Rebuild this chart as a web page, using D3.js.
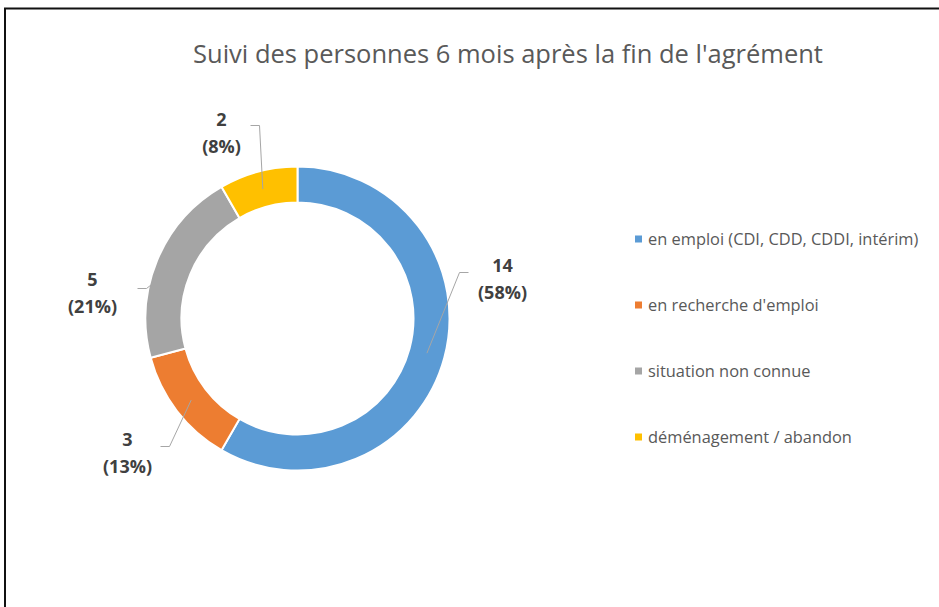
<!DOCTYPE html>
<meta charset="utf-8">
<head>
  <title>Suivi des personnes</title>
</head>

<style>
body {
  margin: 0;
  background: #fff;
  font-family: "Open Sans", Lato, sans-serif;
  font-variant-ligatures: none;
}

.title {
  font-size: 25.5px;
  fill: #595959;
}

.legend text {
  font-size: 16.4px;
  fill: #595959;
}

.labels text {
  font-size: 18px;
  font-weight: bold;
  fill: #404040;
}

.leaders path {
  fill: none;
  stroke: #a6a6a6;
  stroke-width: 1;
}

.slices path {
  stroke: #fff;
  stroke-width: 2;
}
</style>

<body>
  <svg width="939" height="607"></svg>

  <script src="https://cdnjs.cloudflare.com/ajax/libs/d3/7.8.5/d3.min.js"></script>

  <script>
var categories = [
  'en emploi (CDI, CDD, CDDI, intérim)',
  'en recherche d\'emploi',
  'situation non connue',
  'déménagement / abandon'
];
var values = [14, 3, 5, 2];
var colors = ['#5b9bd5', '#ed7d31', '#a5a5a5', '#ffc000'];

var titleText = 'Suivi des personnes 6 mois après la fin de l\'agrément';

// layout: label centre and leader elbow, relative to the donut centre
var labelAt = [[205, -43], [-170, 131], [-205, -29], [-76, -189]];
var elbowAt = [[162, -46], [-128, 128], [-151, -30], [-38, -193]];

var cx = 297.5, cy = 318.5;
var outerR = 152, innerR = 116;

var svg = d3.select('svg');

// frame
svg.append('rect')
  .attr('x', 5)
  .attr('y', 8.5)
  .attr('width', 1000)
  .attr('height', 1000)
  .attr('fill', 'none')
  .attr('stroke', '#111')
  .attr('stroke-width', 2);

svg.append('text')
  .attr('class', 'title')
  .attr('x', 508)
  .attr('y', 63)
  .attr('text-anchor', 'middle')
  .text(titleText);

var total = d3.sum(values);

var pie = d3.pie()
  .sort(null)
  .value(function(d) { return d; });

var arc = d3.arc()
  .innerRadius(innerR)
  .outerRadius(outerR);

var midArc = d3.arc()
  .innerRadius((innerR + outerR) / 2)
  .outerRadius((innerR + outerR) / 2);

var arcs = pie(values);

var g = svg.append('g')
  .attr('transform', 'translate(' + cx + ',' + cy + ')');

g.append('g')
  .attr('class', 'slices')
  .selectAll('path')
  .data(arcs)
  .enter()
  .append('path')
  .attr('fill', function(d, i) { return colors[i]; })
  .attr('d', arc);

// leader lines
g.append('g')
  .attr('class', 'leaders')
  .selectAll('path')
  .data(arcs)
  .enter()
  .append('path')
  .attr('d', function(d, i) {
    var c = midArc.centroid(d);
    var e = elbowAt[i];
    var dir = labelAt[i][0] > e[0] ? 1 : -1;
    return d3.line()([c, e, [e[0] + dir * 9, e[1]]]);
  });

// data labels
var lab = g.append('g')
  .attr('class', 'labels')
  .selectAll('text')
  .data(arcs)
  .enter()
  .append('text')
  .attr('text-anchor', 'middle')
  .attr('x', function(d, i) { return labelAt[i][0]; })
  .attr('y', function(d, i) { return labelAt[i][1]; });

lab.append('tspan')
  .attr('x', function(d, i) { return labelAt[i][0]; })
  .attr('dy', '-0.2em')
  .text(function(d) { return d.data; });

lab.append('tspan')
  .attr('x', function(d, i) { return labelAt[i][0]; })
  .attr('dy', '1.5em')
  .text(function(d) { return '(' + Math.round(d.data / total * 100) + '%)'; });

// legend
var legendY = d3.scalePoint()
  .domain(categories)
  .range([239, 437]);

var item = svg.append('g')
  .attr('class', 'legend')
  .selectAll('g')
  .data(categories)
  .enter()
  .append('g')
  .attr('transform', function(d) { return 'translate(635,' + legendY(d) + ')'; });

item.append('rect')
  .attr('x', 0)
  .attr('y', -3.5)
  .attr('width', 7)
  .attr('height', 7)
  .attr('fill', function(d, i) { return colors[i]; });

item.append('text')
  .attr('x', 13)
  .attr('dy', '0.35em')
  .text(function(d) { return d; });
  </script>
</body>
</html>
